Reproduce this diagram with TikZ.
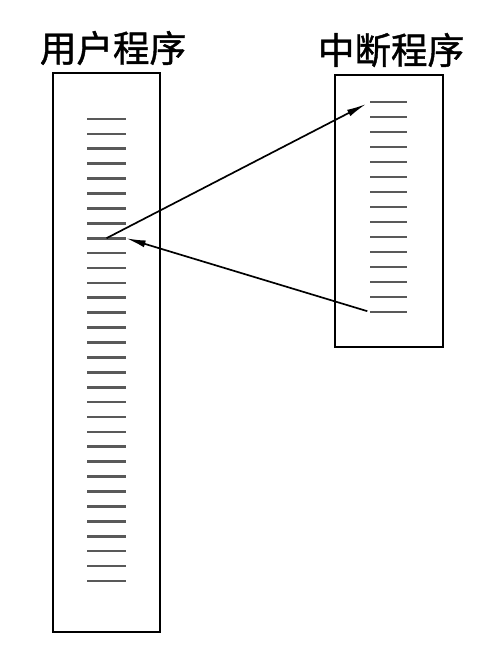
\documentclass[tikz,border=0pt]{standalone}
\usepackage{fontspec}
\newfontfamily\cjk[FakeBold=1.2]{Noto Sans CJK SC}
\usepackage{tikz}
\usetikzlibrary{
	arrows.meta,
	positioning,
	calc
}
\usepackage{xcolor}

\tikzset{
	progbox/.style={draw,line width=1.6pt,minimum width=#1},
	progbox/.default=2.7cm,
	codeline/.style={gray!70!black,line width=1.9pt},
	title/.style={font=\cjk\fontsize{26}{28}\selectfont,inner sep=0pt}
}

\begin{document}
\begin{tikzpicture}[>={Latex[length=14pt,width=5pt]},x=0.025cm,y=-0.025cm]
			
			\useasboundingbox (0,0) rectangle (480,650);
			
			\node[progbox=2.675cm,minimum height=13.975cm] (user) at (106.5,352.5) {};
			\node[progbox=2.7cm,minimum height=6.8cm] (irq) at (389,211) {};
			
			\node[title] (usertitle) at (113,48) {用户程序};
			\node[title] (irqtitle) at (391,50) {中断程序};
			
			% code lines of the user program
			\foreach \i in {1,...,32}{
				\coordinate (ul\i) at (87,{119+(\i-1)*14.9});
				\coordinate (ur\i) at (126,{119+(\i-1)*14.9});
				\draw[codeline] (ul\i)--(ur\i);
			}
			
			% code lines of the interrupt program
			\foreach \i in {1,...,15}{
				\coordinate (il\i) at (370,{102+(\i-1)*15});
				\coordinate (ir\i) at (407,{102+(\i-1)*15});
				\draw[codeline] (il\i)--(ir\i);
			}
			
			\coordinate (um9) at ($(ul9)!0.5!(ur9)$);
			
			\draw[->,line width=1.2pt,shorten >=3pt] (um9)--(il1);
			\draw[->,line width=1.2pt,shorten <=2pt] (il15)--(ur9);
			
		\end{tikzpicture}
\end{document}
